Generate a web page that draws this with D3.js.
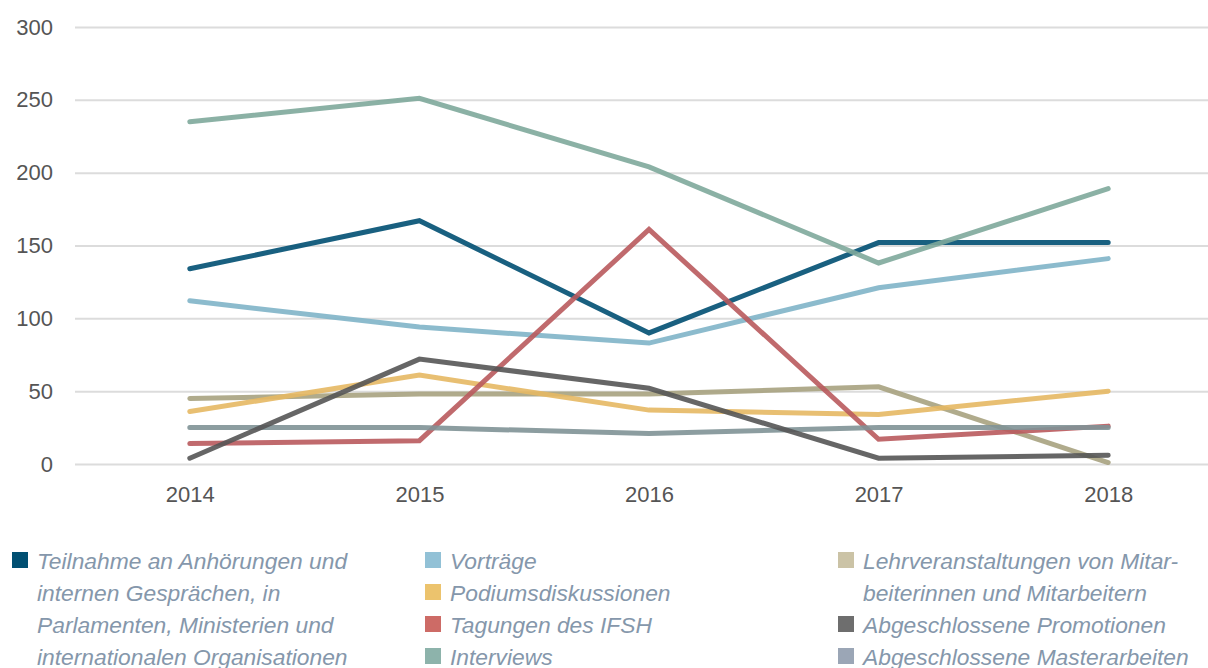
<!DOCTYPE html>
<html>
<head>
<meta charset="utf-8">
<script src="https://cdn.jsdelivr.net/npm/d3@7"></script>
<style>
  body { margin: 0; background: #fff; }
  svg { display: block; font-family: "Liberation Sans", Arial, sans-serif; }
  .tick text { fill: #555; font-size: 22px; }
  .legend text { fill: #8597ab; font-size: 22.8px; font-style: italic; }
</style>
</head>
<body>
<svg id="chart" width="1208" height="668"></svg>
<script>
// data
const years = ["2014", "2015", "2016", "2017", "2018"]
const yTicks = [0, 50, 100, 150, 200, 250, 300]

const teilnahme = [134, 167, 90, 152, 152]
const vortraege = [112, 94, 83, 121, 141]
const podium = [36, 61, 37, 34, 50]
const tagungen = [14, 16, 161, 17, 26]
const interviews = [235, 251, 204, 138, 189]
const lehre = [45, 48, 48, 53, 1]
const promotionen = [4, 72, 52, 4, 6]
const master = [25, 25, 21, 25, 25]

const series = [
  { name: ["Teilnahme an Anhörungen und", "internen Gesprächen, in", "Parlamenten, Ministerien und", "internationalen Organisationen"], values: teilnahme, color: "#004f72", box: "#004f72" },
  { name: ["Vorträge"], values: vortraege, color: "#7fb4c8", box: "#92c1d6" },
  { name: ["Podiumsdiskussionen"], values: podium, color: "#e6b863", box: "#ecc36d" },
  { name: ["Tagungen des IFSH"], values: tagungen, color: "#b95a5d", box: "#cd6b66" },
  { name: ["Interviews"], values: interviews, color: "#7ea99b", box: "#8db3ab" },
  { name: ["Lehrveranstaltungen von Mitar-", "beiterinnen und Mitarbeitern"], values: lehre, color: "#a7a27f", box: "#cbc3a6" },
  { name: ["Abgeschlossene Promotionen"], values: promotionen, color: "#555555", box: "#6e6e6e" },
  { name: ["Abgeschlossene Masterarbeiten"], values: master, color: "#7f9296", box: "#9ba6b6" }
]

// drawing order of the lines
const drawOrder = [0, 1, 5, 2, 4, 3, 7, 6]

const svg = d3.select("#chart")

const x = d3.scalePoint()
  .domain(years)
  .range([75, 1223])
  .padding(0.5)

const y = d3.scaleLinear()
  .domain([0, 300])
  .range([464, 27])

// grid
const yAxis = svg.append("g")
  .attr("transform", "translate(75,0)")
  .call(d3.axisLeft(y).tickValues(yTicks).tickSize(-1133).tickPadding(22))
yAxis.select(".domain").remove()
yAxis.selectAll(".tick line").attr("stroke", "#dcdcdc").attr("stroke-width", 2)

const xAxis = svg.append("g")
  .attr("transform", "translate(0,464)")
  .call(d3.axisBottom(x).tickSize(0).tickPadding(22))
xAxis.select(".domain").remove()

// lines
const line = d3.line()
  .x((d, i) => x(years[i]))
  .y(d => y(d))

svg.append("g")
  .selectAll("path")
  .data(drawOrder.map(i => series[i]))
  .enter()
  .append("path")
  .attr("d", d => line(d.values))
  .attr("fill", "none")
  .attr("stroke", d => d.color)
  .attr("stroke-width", 5)
  .attr("stroke-linecap", "round")
  .attr("stroke-linejoin", "miter")
  .attr("opacity", 0.9)

// legend
const columns = [
  { x: 12, items: [0] },
  { x: 425, items: [1, 2, 3, 4] },
  { x: 838, items: [5, 6, 7] }
]
const lineHeight = 32

const legend = svg.append("g").attr("class", "legend")
columns.forEach(col => {
  let row = 0
  col.items.forEach(i => {
    const s = series[i]
    const top = 552 + row * lineHeight
    legend.append("rect")
      .attr("x", col.x)
      .attr("y", top)
      .attr("width", 16)
      .attr("height", 16)
      .attr("fill", s.box)
    s.name.forEach((t, k) => {
      legend.append("text")
        .attr("x", col.x + 25)
        .attr("y", top + 17 + k * lineHeight)
        .text(t)
    })
    row += s.name.length
  })
})
</script>
</body>
</html>
